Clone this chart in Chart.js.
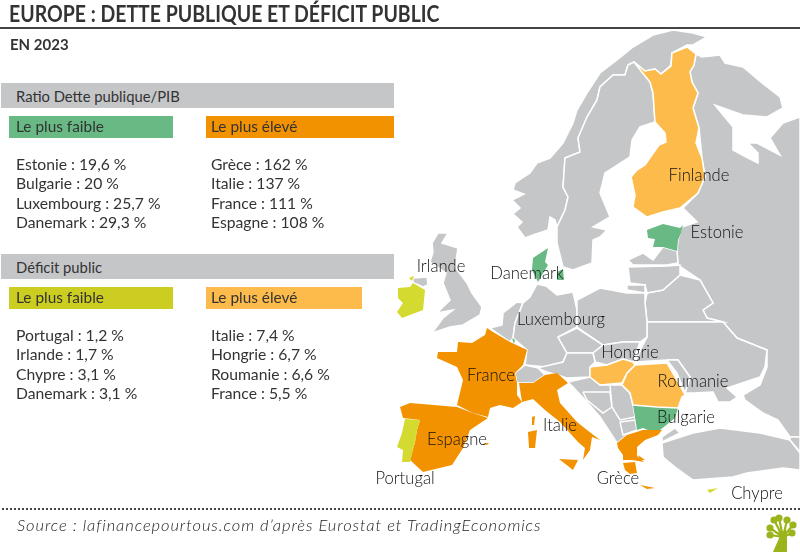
<!DOCTYPE html>
<html lang="fr"><head><meta charset="utf-8">
<script src="https://cdn.jsdelivr.net/npm/chart.js@4/dist/chart.umd.min.js"></script>
<style>
html,body{margin:0;padding:0;background:#fff}
#wrap{position:relative;width:800px;height:552px;overflow:hidden;font-family:Lato,sans-serif;color:#333}
canvas{position:absolute;left:0;top:0}
.t{position:absolute;white-space:nowrap;line-height:1}
.r{position:absolute}
</style></head><body>
<div id="wrap"><canvas id="c" width="800" height="552"></canvas></div>
<script>
/* ---- Data ---- */
const mainTitle = "EUROPE : DETTE PUBLIQUE ET DÉFICIT PUBLIC";
const subTitle = "EN 2023";
const sourceText = "Source : lafinancepourtous.com d’après Eurostat et TradingEconomics";
const debtTitle = "Ratio Dette publique/PIB";
const deficitTitle = "Déficit public";
const lowLabel = "Le plus faible";
const highLabel = "Le plus élevé";
const debtLowCountries = ["Estonie","Bulgarie","Luxembourg","Danemark"];
const debtLowValues = ["19,6","20","25,7","29,3"];
const debtHighCountries = ["Grèce","Italie","France","Espagne"];
const debtHighValues = ["162","137","111","108"];
const deficitLowCountries = ["Portugal","Irlande","Chypre","Danemark"];
const deficitLowValues = ["1,2","1,7","3,1","3,1"];
const deficitHighCountries = ["Italie","Hongrie","Roumanie","France"];
const deficitHighValues = ["7,4","6,7","6,6","5,5"];

/* map outlines, in map units */
const norway=[[707,37],[693,45],[687,45],[672,53],[671,65],[661,74],[655,69],[645,71],[634,62],[628,65],[625,75],[613,75],[600,87],[597,100],[587,117],[578,138],[580,152],[565,158],[563,187],[568,197],[565,210],[557,227],[555,220],[550,217],[548,230],[533,235],[525,238],[517,227],[522,222],[513,214],[520,208],[512,200],[524,194],[513,190],[515,183],[530,173],[537,163],[550,158],[563,143],[573,123],[577,110],[587,93],[600,73],[617,60],[633,47],[653,35],[673,30],[693,33]];
const sweden=[[628,65],[634,62],[650,82],[653,93],[655,122],[640,127],[632,140],[630,157],[605,173],[600,193],[610,217],[593,227],[607,230],[600,237],[593,240],[592,263],[573,270],[563,267],[557,243],[557,227],[565,210],[568,197],[563,187],[565,158],[580,152],[578,138],[587,117],[597,100],[600,87],[613,75],[625,75]];
const russia=[[696,54],[702,57],[720,55],[725,63],[743,67],[762,83],[780,97],[783,108],[767,117],[743,115],[715,105],[733,127],[733,150],[748,158],[758,163],[758,153],[748,143],[757,143],[780,155],[770,138],[783,123],[800,117],[800,437],[790,437],[778,420],[763,413],[745,400],[743,395],[760,385],[767,367],[767,350],[737,338],[723,322],[707,318],[703,310],[713,303],[700,280],[678,265],[677,251],[678,240],[682,227],[697,222],[683,208],[698,193],[705,177],[702,158],[699,128],[693,108],[698,93],[692,82],[690,72],[694,65]];
const belarus=[[647,293],[663,290],[680,275],[700,280],[713,303],[703,310],[707,318],[723,322],[647,322],[645,303]];
const ukraine=[[647,322],[723,322],[737,338],[767,350],[765,367],[760,377],[727,388],[737,397],[730,402],[718,402],[713,392],[693,393],[685,393],[690,377],[678,360],[667,360],[635,362],[642,347],[647,337]];
const moldova=[[667,360],[678,360],[690,377],[685,393],[677,373]];
const turkey=[[662,443],[693,433],[720,428],[760,433],[790,440],[800,453],[800,470],[783,468],[747,473],[733,477],[693,480],[675,467],[663,457]];
const turkeyEurope=[[662,437],[675,428],[680,433],[662,442]];
const georgia=[[790,437],[800,437],[800,452],[790,440]];
const latvia=[[628,260],[643,253],[653,260],[663,247],[677,251],[678,263],[667,265],[633,265]];
const lithuania=[[628,267],[667,266],[680,265],[680,275],[663,290],[647,293],[645,285],[630,283]];
const kaliningrad=[[627,285],[645,285],[645,293],[627,290]];
const gotland=[[607,253],[610,247],[606,256]];
const britain=[[432,243],[438,233],[448,233],[442,243],[458,248],[455,267],[467,283],[472,293],[482,307],[480,315],[463,325],[450,327],[432,333],[443,318],[453,310],[437,313],[450,300],[443,283],[446,273],[430,262],[433,252]];
const northernIreland=[[413,278],[427,277],[428,285],[423,287],[414,283]];
const benelux=[[490,328],[502,325],[503,313],[517,302],[523,303],[515,323],[513,338],[510,342]];
const germany=[[537,284],[546,286],[557,295],[573,292],[577,310],[577,327],[558,337],[567,353],[563,362],[547,367],[525,365],[527,350],[513,338],[515,323],[523,303],[530,297]];
const poland=[[577,300],[600,288],[627,293],[645,293],[645,303],[647,322],[647,337],[640,342],[623,342],[603,345],[577,327]];
const czechia=[[558,337],[577,328],[603,345],[593,353],[567,353]];
const slovakia=[[603,345],[623,342],[640,342],[633,362],[623,359],[607,365],[595,362],[593,353]];
const austria=[[537,368],[563,362],[567,353],[593,353],[595,362],[590,367],[590,377],[567,378],[547,372]];
const switzerland=[[515,373],[525,365],[538,368],[545,375],[533,383],[517,383]];
const balkans=[[568,382],[590,377],[600,385],[622,385],[630,393],[633,405],[635,417],[637,430],[627,435],[617,443],[600,417],[587,402],[573,387]];
const bosnia=[[583,392],[610,392],[612,407],[603,413],[587,400]];
const serbia=[[610,385],[622,385],[630,393],[633,405],[635,417],[620,420],[612,407]];
const macedonia=[[620,422],[635,420],[637,430],[623,435]];
const finland=[[634,62],[645,71],[655,69],[661,74],[671,66],[672,53],[687,47],[696,54],[694,65],[690,72],[692,82],[698,93],[693,108],[699,128],[696,143],[702,158],[705,177],[698,193],[680,208],[663,212],[647,217],[633,207],[635,195],[631,177],[637,170],[645,165],[659,145],[666,142],[665,133],[655,122],[653,93],[650,82]];
const estonia=[[647,230],[663,224],[680,228],[683,225],[681,233],[678,240],[677,251],[663,247],[653,247],[655,239],[648,238]];
const jutland=[[532,270],[533,258],[548,248],[545,262],[548,265],[538,282]];
const zealand=[[557,272],[563,269],[564,280],[557,280]];
const luxembourg=[[512,338],[515,340],[514,344]];
const bulgaria=[[633,405],[657,407],[678,408],[675,418],[660,430],[655,433],[643,428],[637,430],[635,417]];
const romania=[[635,365],[667,363],[677,380],[685,395],[682,397],[678,408],[657,407],[633,405],[630,393],[622,385],[627,373]];
const hungary=[[590,367],[607,365],[623,359],[633,362],[635,365],[627,373],[622,383],[600,385],[590,377]];
const greece=[[617,443],[627,435],[643,430],[662,430],[658,435],[645,440],[637,447],[637,456],[644,462],[632,460],[623,460],[623,455],[618,448]];
const peloponnese=[[623,463],[635,462],[637,473],[630,474],[625,470]];
const crete=[[640,485],[655,488],[647,489]];
const aegean=[[638,455],[645,460],[640,460]];
const italy=[[519,383],[533,383],[545,375],[557,373],[568,383],[557,390],[560,403],[577,422],[587,430],[600,440],[592,437],[590,450],[583,460],[585,448],[578,442],[560,422],[545,410],[533,399],[522,402]];
const sicily=[[559,459],[578,460],[573,470]];
const sardinia=[[528,432],[537,430],[535,448],[529,448]];
const corsica=[[532,417],[535,416],[534,425],[532,425]];
const france=[[487,328],[493,332],[510,342],[527,350],[523,365],[515,373],[517,383],[517,395],[522,402],[513,408],[500,405],[490,408],[488,417],[473,413],[457,405],[463,380],[457,367],[437,358],[438,352],[457,352],[458,342],[472,343],[485,335]];
const spain=[[400,407],[410,403],[457,407],[473,413],[488,418],[470,430],[463,448],[452,465],[423,472],[410,460],[415,442],[417,430],[420,420],[403,418]];
const balearic=[[483,443],[489,443],[487,445]];
const portugal=[[405,419],[420,420],[417,430],[415,442],[410,462],[402,462],[403,450],[397,447],[402,433]];
const ireland=[[398,288],[410,287],[413,283],[425,290],[423,310],[402,318],[397,312],[403,303],[398,298]];
const donegal=[[409,278],[414,276],[412,281]];
const cyprus=[[707,490],[718,488],[710,493]];
const treeTrunk=[[773,552],[780,536],[778,530],[784,534],[786,528],[787,538],[787,552]];
const treeLeafX=[770,774,779,787,793,792,770];
const treeLeafY=[528,520,518,520,525,533,535];
const treeJoinX=783, treeJoinY=537;

const grayShapes=[russia,norway,sweden,belarus,ukraine,moldova,turkey,turkeyEurope,georgia,latvia,lithuania,kaliningrad,gotland,britain,northernIreland,benelux,germany,poland,czechia,slovakia,austria,switzerland,balkans,bosnia,serbia,macedonia];
const greenShapes=[estonia,jutland,zealand,luxembourg,bulgaria];
const orangeShapes=[italy,sicily,sardinia,corsica,france,spain,balearic,greece,peloponnese,crete,aegean];
const lightOrangeShapes=[finland,romania,hungary];
const limeShapes=[portugal,ireland,donegal,cyprus];

const mapLabels=["Finlande","Estonie","Irlande","Danemark","Luxembourg","Hongrie","Roumanie","France","Bulgarie","Italie","Espagne","Portugal","Grèce","Chypre"];
const mapLabelX=[699,717,441,527,561,630,693,491,686,560,457,405,618,757];
const mapLabelY=[176,233,267,274,320,353,382,376,418,426,440,479,479,494];

/* ---- Chart ---- */
const GRAY="#c5c6c8",GREEN="#68b984",ORANGE="#f39200",LIGHT="#fdbb4b",LIME="#d4da2f",LIMEBOX="#cbcd20",TREE="#9cb41c";
const closed=a=>a.concat([a[0]]).map(p=>({x:p[0],y:p[1]}));
const ds=(shape,color,line)=>({data:closed(shape),showLine:true,fill:'shape',backgroundColor:color,borderColor:line||'#fff',borderWidth:line===color?0:1.5,pointRadius:0,tension:0});
const leaf=i=>({data:[{x:treeJoinX,y:treeJoinY},{x:treeLeafX[i],y:treeLeafY[i]}],showLine:true,borderColor:TREE,backgroundColor:TREE,borderWidth:2.2,pointRadius:[0,3.6],pointBorderWidth:0,tension:0});
let datasets=[].concat(
  grayShapes.map(s=>ds(s,GRAY)),
  greenShapes.map(s=>ds(s,GREEN,GREEN)),
  orangeShapes.map(s=>ds(s,ORANGE,ORANGE)),
  lightOrangeShapes.map(s=>ds(s,LIGHT)),
  limeShapes.map(s=>ds(s,LIME,LIME)),
  [ds(treeTrunk,TREE,TREE)],
  treeLeafX.map((_,i)=>leaf(i))
);
datasets.forEach((d,i)=>{d.order=datasets.length-i;});
const labelPlugin={id:'mapLabels',afterDatasetsDraw(ch){
  const c=ch.ctx,xs=ch.scales.x,ys=ch.scales.y;
  c.save();c.font='300 16.6px Lato, sans-serif';c.fillStyle='#111';c.textAlign='center';c.textBaseline='middle';
  mapLabels.forEach((n,i)=>c.fillText(n,xs.getPixelForValue(mapLabelX[i]),ys.getPixelForValue(mapLabelY[i])));
  c.restore();
}};
new Chart(document.getElementById('c'),{type:'scatter',data:{datasets},plugins:[labelPlugin],options:{
  responsive:false,animation:false,events:[],layout:{padding:0,autoPadding:false},
  plugins:{legend:{display:false},tooltip:{enabled:false},title:{display:false}},
  scales:{x:{type:'linear',display:false,min:0,max:800},y:{type:'linear',display:false,min:0,max:552,reverse:true}}
}});

/* ---- Panels and text ---- */
const wrap=document.getElementById('wrap');
function rect(x,y,w,h,bg){const e=document.createElement('div');e.className='r';e.style.cssText+=`left:${x}px;top:${y}px;width:${w}px;height:${h}px;background:${bg}`;wrap.appendChild(e);return e;}
function text(s,x,cy,size,extra){const e=document.createElement('div');e.className='t';e.textContent=s;e.style.cssText+=`left:${x}px;top:${cy-size/2}px;font-size:${size}px;${extra||''}`;wrap.appendChild(e);return e;}
rect(0,27,800,2,'#444');
text(mainTitle,9,14,22,'font-weight:700;color:#333;transform-origin:left center;transform:scaleX(.885)');
text(subTitle,10,44,15,'font-weight:700;color:#333');
rect(1,83,393,25,GRAY);rect(9,116,164,22,GREEN);rect(206,116,188,22,ORANGE);
rect(1,254,393,25,GRAY);rect(9,287,164,22,LIMEBOX);rect(206,287,156,22,LIGHT);
text(debtTitle,16,96,14.8);text(deficitTitle,16,267,14.8);
text(lowLabel,16,127,15.4);text(highLabel,211,127,15.4);text(lowLabel,16,298,15.4);text(highLabel,211,298,15.4);
function list(names,vals,x,y0){names.forEach((n,i)=>text(n+" : "+vals[i]+" %",x,y0+i*19.3,15.7));}
list(debtLowCountries,debtLowValues,16,165);
list(debtHighCountries,debtHighValues,211,165);
list(deficitLowCountries,deficitLowValues,16,336);
list(deficitHighCountries,deficitHighValues,211,336);
const dot=document.createElement('div');dot.className='r';dot.style.cssText+='left:2px;top:508px;width:798px;border-top:2px dotted #444';wrap.appendChild(dot);
text(sourceText,17,525,16.5,'font-style:italic;font-weight:300;color:#222;letter-spacing:.92px');
</script></body></html>
